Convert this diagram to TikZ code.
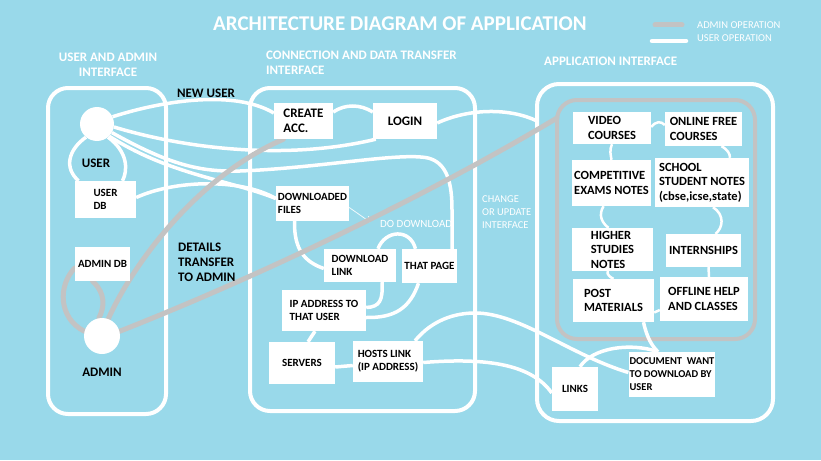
\documentclass[tikz,border=0pt]{standalone}
\usepackage{fontspec}
\setmainfont{Carlito}
\usepackage{xcolor}
\usepackage{tikz}
\usetikzlibrary{arrows.meta,positioning,calc}

\definecolor{skyback}{RGB}{153,217,234}
\definecolor{admingrey}{RGB}{195,195,195}
\pgfdeclarelayer{back}
\pgfsetlayers{back,main}

\begin{document}
\begin{tikzpicture}[x=1pt, y=-1pt, >=Stealth,
  panel/.style={draw=white, line width=4pt, rounded corners=20pt},
  infobox/.style={fill=white, inner sep=1pt, align=left, font=\fontsize{13}{15.5}\selectfont\bfseries},
  smallbox/.style={infobox, font=\fontsize{11}{13}\selectfont\bfseries},
  appitem/.style={infobox, font=\fontsize{12.5}{14.5}\selectfont\bfseries},
  userline/.style={draw=white, line width=3.5pt},
  thinline/.style={draw=white, line width=2.5pt},
  adminline/.style={draw=admingrey, line width=5pt, line cap=round},
  heading/.style={text=white, font=\fontsize{13}{14.5}\selectfont\bfseries, align=left, inner sep=0pt},
  note/.style={text=white, font=\fontsize{10.5}{13}\selectfont, align=left, inner sep=0pt},
  darklabel/.style={text=black, font=\fontsize{13}{15}\selectfont\bfseries, align=left, inner sep=0pt}]
  \useasboundingbox (0,0) rectangle (821,460);

  % Title and legend
  \node[text=white, font=\fontsize{21}{24}\selectfont\bfseries, inner sep=0pt] (title) at (400,24) {ARCHITECTURE DIAGRAM OF APPLICATION};
  \coordinate (key_a1) at (655,25);
  \coordinate (key_a2) at (682,25);
  \coordinate (key_u1) at (652,41);
  \coordinate (key_u2) at (686,41);
  \node[note, anchor=west] (key_admin) at (697,25) {ADMIN OPERATION};
  \node[note, anchor=west] (key_user) at (697,38) {USER OPERATION};

  % Panel headings
  \node[heading, align=center] (head_user) at (108,65) {USER AND ADMIN\\INTERFACE};
  \node[heading, anchor=west] (head_conn) at (266,63) {CONNECTION AND DATA TRANSFER\\INTERFACE};
  \node[heading, anchor=west] (head_app) at (544,61) {APPLICATION INTERFACE};

  % User and admin side
  \node[circle, fill=white, minimum size=34pt, inner sep=0pt] (user) at (97,124) {};
  \node[darklabel] (user_lbl) at (96,163) {USER};
  \node[smallbox, minimum width=61pt, minimum height=37pt] (user_db) at (105.5,199.5) {USER\\DB};
  \node[smallbox, minimum width=55pt, minimum height=34pt] (admin_db) at (102.5,264) {ADMIN DB};
  \node[circle, fill=white, minimum size=36pt, inner sep=0pt] (admin) at (102,336) {};
  \node[darklabel] (admin_lbl) at (102,372) {ADMIN};
  \node[darklabel] (new_user) at (206,93) {NEW USER};
  \node[darklabel, anchor=west] (details) at (178,262) {DETAILS\\TRANSFER\\TO ADMIN};

  % Connection and data transfer
  \node[infobox, minimum width=59pt, minimum height=36pt] (create_acc) at (303.5,121) {CREATE\\ACC.};
  \node[infobox, minimum width=64pt, minimum height=36pt] (login) at (405,121) {LOGIN};
  \node[smallbox, minimum width=73pt, minimum height=35pt] (dl_files) at (312.5,203.5) {DOWNLOADED\\FILES};
  \node[smallbox, minimum width=72pt, minimum height=33pt] (dl_link) at (360,265.5) {DOWNLOAD\\LINK};
  \node[smallbox, minimum width=55pt, minimum height=34pt] (that_page) at (429.5,266) {THAT PAGE};
  \node[smallbox, minimum width=84pt, minimum height=41pt] (ip_addr) at (324,310.5) {IP ADDRESS TO\\THAT USER};
  \node[smallbox, minimum width=66pt, minimum height=42pt] (servers) at (302,363) {SERVERS};
  \node[smallbox, minimum width=70pt, minimum height=41pt] (hosts_link) at (388,361.5) {HOSTS LINK\\(IP ADDRESS)};
  \node[note, font=\fontsize{11}{13}\selectfont, anchor=west] (do_dl) at (380,224) {DO DOWNLOAD};
  \node[note, anchor=west] (change) at (482,212) {CHANGE\\OR UPDATE\\INTERFACE};
  \coordinate (dl_tip) at (370,222);

  % Application interface
  \node[appitem, minimum width=78pt, minimum height=32pt] (video) at (612,128) {VIDEO\\COURSES};
  \node[appitem, minimum width=77pt, minimum height=34pt] (online) at (703.5,129) {ONLINE FREE\\COURSES};
  \node[appitem, minimum width=79pt, minimum height=46pt] (compet) at (611.5,183) {COMPETITIVE\\EXAMS NOTES};
  \node[appitem, minimum width=94pt, minimum height=49pt] (school) at (702,182.5) {SCHOOL\\STUDENT NOTES\\(cbse,icse,state)};
  \node[appitem, minimum width=81pt, minimum height=43pt] (higher) at (612.5,249.5) {HIGHER\\STUDIES\\NOTES};
  \node[appitem, minimum width=75pt, minimum height=33pt] (intern) at (703.5,250.5) {INTERNSHIPS};
  \node[appitem, minimum width=81pt, minimum height=43pt] (post_mat) at (613.5,300.5) {POST\\MATERIALS};
  \node[appitem, minimum width=88pt, minimum height=44pt] (offline) at (704,299) {OFFLINE HELP\\AND CLASSES};
  \node[smallbox, font=\fontsize{10.5}{13}\selectfont\bfseries, minimum width=86pt, minimum height=45pt] (doc_want) at (672,374.5) {DOCUMENT~ WANT\\TO DOWNLOAD BY\\USER};
  \node[smallbox, minimum width=46pt, minimum height=44pt] (links) at (575,389) {LINKS};
  \coordinate (app_in) at (537,121);
  \coordinate (grey_corner) at (557,118);

  \begin{pgfonlayer}{back}
    \fill[skyback] (0,0) rectangle (821,460);
    % Panels
    \draw[panel] (48,88) rectangle (166,414);
    \draw[panel] (250,88) rectangle (475,411);
    \draw[panel, rounded corners=22pt] (537,84) rectangle (773,421);
    \draw[admingrey, line width=4pt, rounded corners=20pt] (557,100) rectangle (755,339);
    \draw[adminline] (key_a1) -- (key_a2);
    \draw[userline, line width=4.5pt, line cap=round] (key_u1) -- (key_u2);

    % User operations
    \draw[userline] (user.-130) .. controls (68,150) and (64,168) .. ([xshift=-27pt]user_db.north);
    \draw[userline] (user.-50) .. controls (128,152) and (128,170) .. ([xshift=17pt]user_db.north);
    \draw[userline] (user.25) .. controls (165,100) and (235,90) .. ([yshift=8pt]create_acc.west);
    \draw[userline] ([yshift=9pt]create_acc.east) .. controls (345,104) and (360,104) .. ([yshift=9pt]login.west);
    \draw[userline] (user.-10) .. controls (190,150) and (290,160) .. ([xshift=3pt]login.south west);
    \draw[userline] (user.-30) .. controls (170,165) and (200,172) .. (240,171)
      .. controls (320,168) and (400,152) .. (428,158)
      .. controls (448,163) and (452,185) .. (452,210) -- ([xshift=-5pt]that_page.north east);
    \draw[userline] (user.-45) .. controls (170,175) and (230,180) .. ([yshift=5pt]dl_files.west);
    \draw[userline] ([yshift=2pt]user_db.east) .. controls (175,180) and (240,178) .. ([yshift=5pt]dl_files.west);
    \draw[userline] ([yshift=-2pt]login.east) .. controls (470,108) and (510,108) .. (app_in);

    % Downloads and servers
    \draw[userline] ([xshift=-18pt]dl_files.south) .. controls (294,250) and (305,262) .. ([yshift=-3pt]dl_link.west);
    \draw[userline] ([xshift=18pt]dl_link.north) .. controls (385,230) and (410,228) .. ([xshift=-14pt]that_page.north);
    \draw[userline] ([xshift=22pt]dl_link.south) .. controls (383,300) and (380,307) .. ([yshift=3pt]ip_addr.east);
    \draw[userline] ([xshift=-11pt]that_page.south) .. controls (410,308) and (395,318) .. ([yshift=-7pt]ip_addr.east);
    \draw[userline] ([xshift=-9pt]ip_addr.south) -- ([xshift=6pt]servers.north);
    \draw[userline] ([yshift=-4pt]servers.east) -- ([yshift=-4pt]hosts_link.west);
    \draw[userline] ([xshift=27pt]hosts_link.north) .. controls (432,320) and (455,313) .. (475,313)
      .. controls (520,313) and (570,355) .. ([yshift=2pt]doc_want.west);
    \draw[userline] ([yshift=-1pt]hosts_link.east) .. controls (480,358) and (530,362) .. ([yshift=-4pt]links.west);
    \draw[userline] ([xshift=5pt]links.north) .. controls (592,348) and (630,342) .. ([xshift=-14pt]doc_want.north);
    \draw[userline] ([xshift=30pt]post_mat.south) .. controls (647,338) and (652,346) .. ([xshift=-14pt]doc_want.north);
    \draw[-{Straight Barb[length=4pt]}, white!85!skyback, line width=0.8pt] ([yshift=-4pt]dl_files.east) -- (dl_tip);

    % Links between application items
    \draw[thinline] ([yshift=1pt]video.east) .. controls (656,121) and (661,121) .. ([yshift=4pt]online.west);
    \draw[thinline] (video.south) .. controls (609,150) and (611,156) .. (compet.north);
    \draw[thinline] ([xshift=18pt]online.south) .. controls (728,150) and (730,154) .. ([xshift=28pt]school.north);
    \draw[thinline] ([xshift=-8pt]compet.south) .. controls (598,215) and (602,223) .. ([xshift=-4pt]higher.north);
    \draw[thinline] ([xshift=11pt]school.south) .. controls (725,215) and (723,228) .. ([xshift=12pt]intern.north);
    \draw[thinline] ([xshift=-5pt]higher.south) .. controls (607,275) and (610,277) .. (post_mat.north);
    \draw[thinline] ([xshift=5pt]intern.south) -- ([xshift=5pt]offline.north);
    \draw[thinline] ([yshift=-12pt]post_mat.east) -- ([yshift=-11pt]offline.west);

    % Admin operations
    \draw[adminline] (admin.70) .. controls (135,260) and (200,175) .. ([xshift=-20pt]create_acc.south);
    \draw[adminline] (admin.15) .. controls (250,280) and (420,200) .. (grey_corner);
    \draw[adminline] ([yshift=-4pt]admin_db.west) .. controls (58,285) and (58,318) .. (admin.165);
    \draw[adminline] ([xshift=-10pt]admin_db.south) .. controls (100,288) and (108,300) .. (admin.100);
  \end{pgfonlayer}
\end{tikzpicture}
\end{document}
